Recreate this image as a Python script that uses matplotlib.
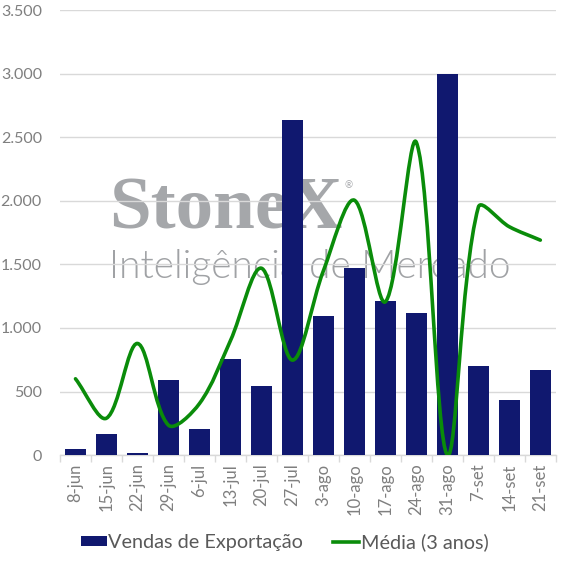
import matplotlib
matplotlib.use("Agg")
import matplotlib.pyplot as plt
from matplotlib.path import Path
from matplotlib.patches import PathPatch, Patch
from matplotlib.lines import Line2D
from matplotlib.ticker import FuncFormatter, MultipleLocator, FixedLocator
import numpy as np

categories = ["8-jun", "15-jun", "22-jun", "29-jun", "6-jul", "13-jul", "20-jul", "27-jul",
              "3-ago", "10-ago", "17-ago", "24-ago", "31-ago", "7-set", "14-set", "21-set"]
vendas = [45, 163, 13, 587, 202, 755, 540, 2640, 1093, 1468, 1214, 1117, 3000, 700, 430, 666]
media = [600, 290, 878, 235, 405, 900, 1470, 747, 1450, 2005, 1206, 2460, 0, 1950, 1796, 1691]

plt.rcParams['font.family'] = ['Lato', 'DejaVu Sans']

fig = plt.figure(figsize=(5.66, 5.66), dpi=100)
ax_rect = [0.106, 0.196, 0.876, 0.786]
ax = fig.add_axes(ax_rect)

x = np.arange(len(categories))
ax.bar(x, vendas, width=0.68, color="#10186f", zorder=3, label="Vendas de Exportação")

ax.set_xlim(-0.5, len(categories) - 0.5)
ax.set_ylim(0, 3500)

# Smoothed line (Excel-style, segment-length-weighted bezier) through the data points
W = ax_rect[2] * 566
H = ax_rect[3] * 566
sx = W / len(categories)
sy = H / 3500.0
pts = np.column_stack([x * sx, np.array(media, float) * sy])
n = len(pts)
t = 0.5
def d(a, b):
    return np.hypot(*(pts[b] - pts[a]))
verts = [tuple(pts[0])]
codes = [Path.MOVETO]
for i in range(n - 1):
    p1, p2 = pts[i], pts[i + 1]
    d12 = d(i, i + 1)
    if i > 0:
        d01 = d(i - 1, i)
        c1 = p1 + (p2 - pts[i - 1]) * t * d12 / (d01 + d12) * 0.667
    else:
        c1 = p1 + (p2 - p1) / 3.0
    if i + 2 < n:
        d23 = d(i + 1, i + 2)
        c2 = p2 - (pts[i + 2] - p1) * t * d12 / (d12 + d23) * 0.667
    else:
        c2 = p2 - (p2 - p1) / 3.0
    verts += [tuple(c1), tuple(c2), tuple(p2)]
    codes += [Path.CURVE4] * 3
verts = [(vx / sx, vy / sy) for vx, vy in verts]
path = Path(verts, codes)
ax.add_patch(PathPatch(path, facecolor="none", edgecolor="#0a8c0a", lw=2.6,
                       capstyle="round", joinstyle="round", zorder=4))

ax.yaxis.set_major_locator(MultipleLocator(500))
ax.yaxis.set_major_formatter(FuncFormatter(lambda v, p: f"{int(v):,}".replace(",", ".")))
ax.grid(axis="y", color="#d9d9d9", lw=1.0, zorder=0)
ax.set_axisbelow(True)
for s in ["top", "right", "left"]:
    ax.spines[s].set_visible(False)
ax.spines["bottom"].set_color("#d9d9d9")
ax.spines["bottom"].set_linewidth(1.0)

ax.set_xticks(x)
ax.set_xticklabels(categories, rotation=90)
ax.tick_params(axis="x", which="major", length=0, pad=6, labelsize=12, labelcolor="#7f7f7f")
ax.xaxis.set_minor_locator(FixedLocator(np.arange(-0.5, len(categories), 1.0)))
ax.tick_params(axis="x", which="minor", length=5, color="#d9d9d9", width=1)
ax.tick_params(axis="y", length=0, pad=13, labelsize=11.5, labelcolor="#7f7f7f")

# Watermark (behind the data)
fig.text(0.192, 0.597, "StoneX", fontsize=54, fontweight="bold", family="Liberation Serif",
         color="#a5a7aa", zorder=1, ha="left", va="baseline")
fig.text(0.609, 0.668, "®", fontsize=7, color="#a5a7aa", ha="left", va="baseline")
fig.text(0.192, 0.508, "Inteligência de Mercado", fontsize=28, fontweight=300,
         family="Lato", color="#a0a2a5", zorder=1, ha="left", va="baseline")
ax.set_zorder(2)
ax.patch.set_alpha(0)

handles = [Patch(facecolor="#10186f", edgecolor="none"),
           Line2D([0], [0], color="#0a8c0a", lw=2.6)]
fig.legend(handles, ["Vendas de Exportação", "Média (3 anos)"], loc="center",
           bbox_to_anchor=(0.503, 0.042), ncol=2, frameon=False, fontsize=14.3,
           labelcolor="#595959", handlelength=1.3, handleheight=0.45,
           handletextpad=0.08, columnspacing=1.5)

fig.savefig("out.png", dpi=100)
